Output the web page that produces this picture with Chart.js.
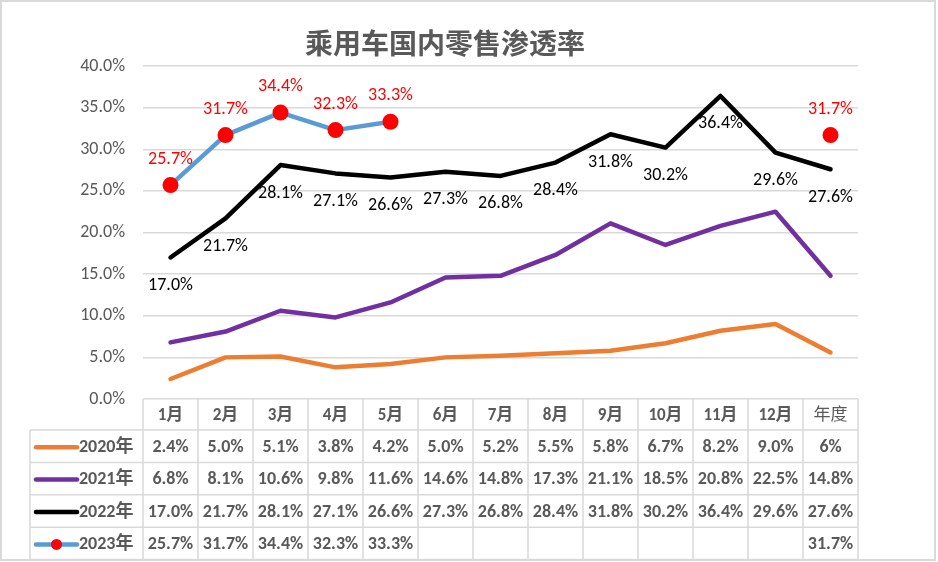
<!DOCTYPE html>
<html>
<head>
<meta charset="utf-8">
<script src="https://cdn.jsdelivr.net/npm/chart.js@4.4.0/dist/chart.umd.min.js"></script>
<style>
    html, body { margin: 0; padding: 0; background: #fff; }
    #wrap { width: 938px; height: 562px; }
</style>
</head>
<body>
<div id="wrap"><canvas id="myChart" width="938" height="562"></canvas></div>
<script>
// categories + series (percent values)
const months = ["1月", "2月", "3月", "4月", "5月", "6月", "7月", "8月", "9月", "10月", "11月", "12月", "年度"];
const rate2020 = [2.4, 5.0, 5.1, 3.8, 4.2, 5.0, 5.2, 5.5, 5.8, 6.7, 8.2, 9.0, 5.6];
const rate2021 = [6.8, 8.1, 10.6, 9.8, 11.6, 14.6, 14.8, 17.3, 21.1, 18.5, 20.8, 22.5, 14.8];
const rate2022 = [17.0, 21.7, 28.1, 27.1, 26.6, 27.3, 26.8, 28.4, 31.8, 30.2, 36.4, 29.6, 27.6];
const rate2023 = [25.7, 31.7, 34.4, 32.3, 33.3, null, null, null, null, null, null, null, 31.7];
const seriesNames = ["2020年", "2021年", "2022年", "2023年"];
const yMin = 0, yMax = 40, yStep = 5;

const fmt = v => (v === null ? "" : v.toFixed(1) + "%");
const table2020 = rate2020.map(fmt);
table2020[12] = "6%"; // shown rounded in the source table

const FONT = "Calibri, Carlito, 'Liberation Sans', 'Noto Sans CJK SC', sans-serif";
const GRID = "#d9d9d9";
const TEXT = "#595959";

const sheetPlugin = {
    id: "sheet",
    beforeDraw(chart) {
        const ctx = chart.ctx;
        ctx.save();
        ctx.fillStyle = "#fff";
        ctx.fillRect(0, 0, chart.width, chart.height);
        ctx.restore();
    },
    afterDatasetsDraw(chart) {
        const ctx = chart.ctx;
        ctx.save();
        ctx.font = "18px " + FONT;
        ctx.textAlign = "center";
        ctx.textBaseline = "middle";
        chart.data.datasets.forEach((ds, i) => {
            if (!ds.labelPos) return;
            const meta = chart.getDatasetMeta(i);
            ctx.fillStyle = ds.labelColor;
            meta.data.forEach((pt, j) => {
                const v = ds.data[j];
                if (v === null) return;
                const dy = ds.labelPos === "below" ? 28 : -26;
                ctx.fillText(fmt(v), pt.x, pt.y + dy);
            });
        });
        ctx.restore();
    },
    afterDraw(chart) {
        const ctx = chart.ctx;
        const area = chart.chartArea;
        const x = chart.scales.x;
        const half = (x.getPixelForValue(1) - x.getPixelForValue(0)) / 2;
        const headTop = area.bottom;
        const headH = 31;
        const rowH = 32.4;
        const legendLeft = 30;
        const tableBottom = headTop + headH + rowH * 4;

        ctx.save();
        // title
        ctx.fillStyle = TEXT;
        ctx.font = "bold 28px 'Noto Sans CJK SC', sans-serif";
        ctx.textAlign = "center";
        ctx.textBaseline = "middle";
        ctx.fillText("乘用车国内零售渗透率", 445, 43);

        // table grid
        ctx.strokeStyle = GRID;
        ctx.lineWidth = 1.5;
        ctx.beginPath();
        for (let k = 0; k <= months.length; k++) {
            const px = k < months.length ? x.getPixelForValue(k) - half : x.getPixelForValue(months.length - 1) + half;
            ctx.moveTo(px, headTop);
            ctx.lineTo(px, tableBottom);
        }
        ctx.moveTo(legendLeft, headTop + headH);
        ctx.lineTo(legendLeft, tableBottom);
        for (let r = 0; r <= 4; r++) {
            const py = headTop + headH + rowH * r;
            ctx.moveTo(legendLeft, py);
            ctx.lineTo(area.right, py);
        }
        ctx.stroke();

        // header row
        ctx.fillStyle = TEXT;
        months.forEach((m, k) => {
            ctx.font = (m === "年度" ? "" : "bold ") + "17px " + FONT;
            ctx.fillText(m, x.getPixelForValue(k), headTop + headH / 2 + 1);
        });

        // body rows
        const rows = [table2020, rate2021.map(fmt), rate2022.map(fmt), rate2023.map(fmt)];
        const order = [3, 2, 1, 0]; // dataset index per row
        rows.forEach((cells, r) => {
            const cy = headTop + headH + rowH * r + rowH / 2 + 1;
            const ds = chart.data.datasets[order[r]];
            // legend key
            ctx.strokeStyle = ds.borderColor;
            ctx.lineWidth = 4.5;
            ctx.lineCap = "round";
            ctx.beginPath();
            ctx.moveTo(36, cy);
            ctx.lineTo(77, cy);
            ctx.stroke();
            if (ds.pointRadius > 0) {
                ctx.fillStyle = ds.pointBackgroundColor;
                ctx.beginPath();
                ctx.arc(56.5, cy, 5.5, 0, Math.PI * 2);
                ctx.fill();
            }
            ctx.fillStyle = TEXT;
            ctx.font = "bold 18px " + FONT;
            ctx.textAlign = "left";
            ctx.fillText(seriesNames[r], 79, cy);
            ctx.textAlign = "center";
            cells.forEach((t, k) => {
                if (t) ctx.fillText(t, x.getPixelForValue(k), cy);
            });
        });

        // outer frame
        ctx.strokeStyle = GRID;
        ctx.lineWidth = 2;
        ctx.strokeRect(1, 1, 934, 559);
        ctx.restore();
    }
};

const ctx = document.getElementById("myChart").getContext("2d");
new Chart(ctx, {
    type: "line",
    data: {
        labels: months,
        datasets: [
            {
                label: seriesNames[3], data: rate2023, order: 0,
                borderColor: "#5b9bd5", borderWidth: 4.5,
                pointRadius: 8, pointBackgroundColor: "#ff0000", pointBorderColor: "#ff0000", pointBorderWidth: 0,
                labelPos: "above", labelColor: "#ff0000"
            },
            {
                label: seriesNames[2], data: rate2022, order: 1,
                borderColor: "#000000", borderWidth: 4.5, pointRadius: 0,
                labelPos: "below", labelColor: "#000000"
            },
            {
                label: seriesNames[1], data: rate2021, order: 2,
                borderColor: "#7030a0", borderWidth: 4.5, pointRadius: 0
            },
            {
                label: seriesNames[0], data: rate2020, order: 3,
                borderColor: "#ed7d31", borderWidth: 4.5, pointRadius: 0
            }
        ]
    },
    options: {
        responsive: false,
        animation: false,
        spanGaps: false,
        elements: { line: { tension: 0, borderJoinStyle: "round", borderCapStyle: "round" } },
        layout: { padding: { top: 66, right: 80, bottom: 163, left: 0 } },
        plugins: {
            legend: { display: false },
            title: { display: false },
            tooltip: { enabled: false }
        },
        scales: {
            x: { type: "category", offset: true, display: false },
            y: {
                min: yMin, max: yMax,
                border: { display: false },
                grid: { color: GRID, lineWidth: 1.5, drawTicks: false },
                ticks: {
                    stepSize: yStep, padding: 18, color: TEXT,
                    font: { family: FONT, size: 18 },
                    callback: v => v.toFixed(1) + "%"
                },
                afterFit(scale) {
                    scale.width = 143;
                    scale.paddingTop = 0;
                    scale.paddingBottom = 0;
                }
            }
        }
    },
    plugins: [sheetPlugin]
});
</script>
</body>
</html>
